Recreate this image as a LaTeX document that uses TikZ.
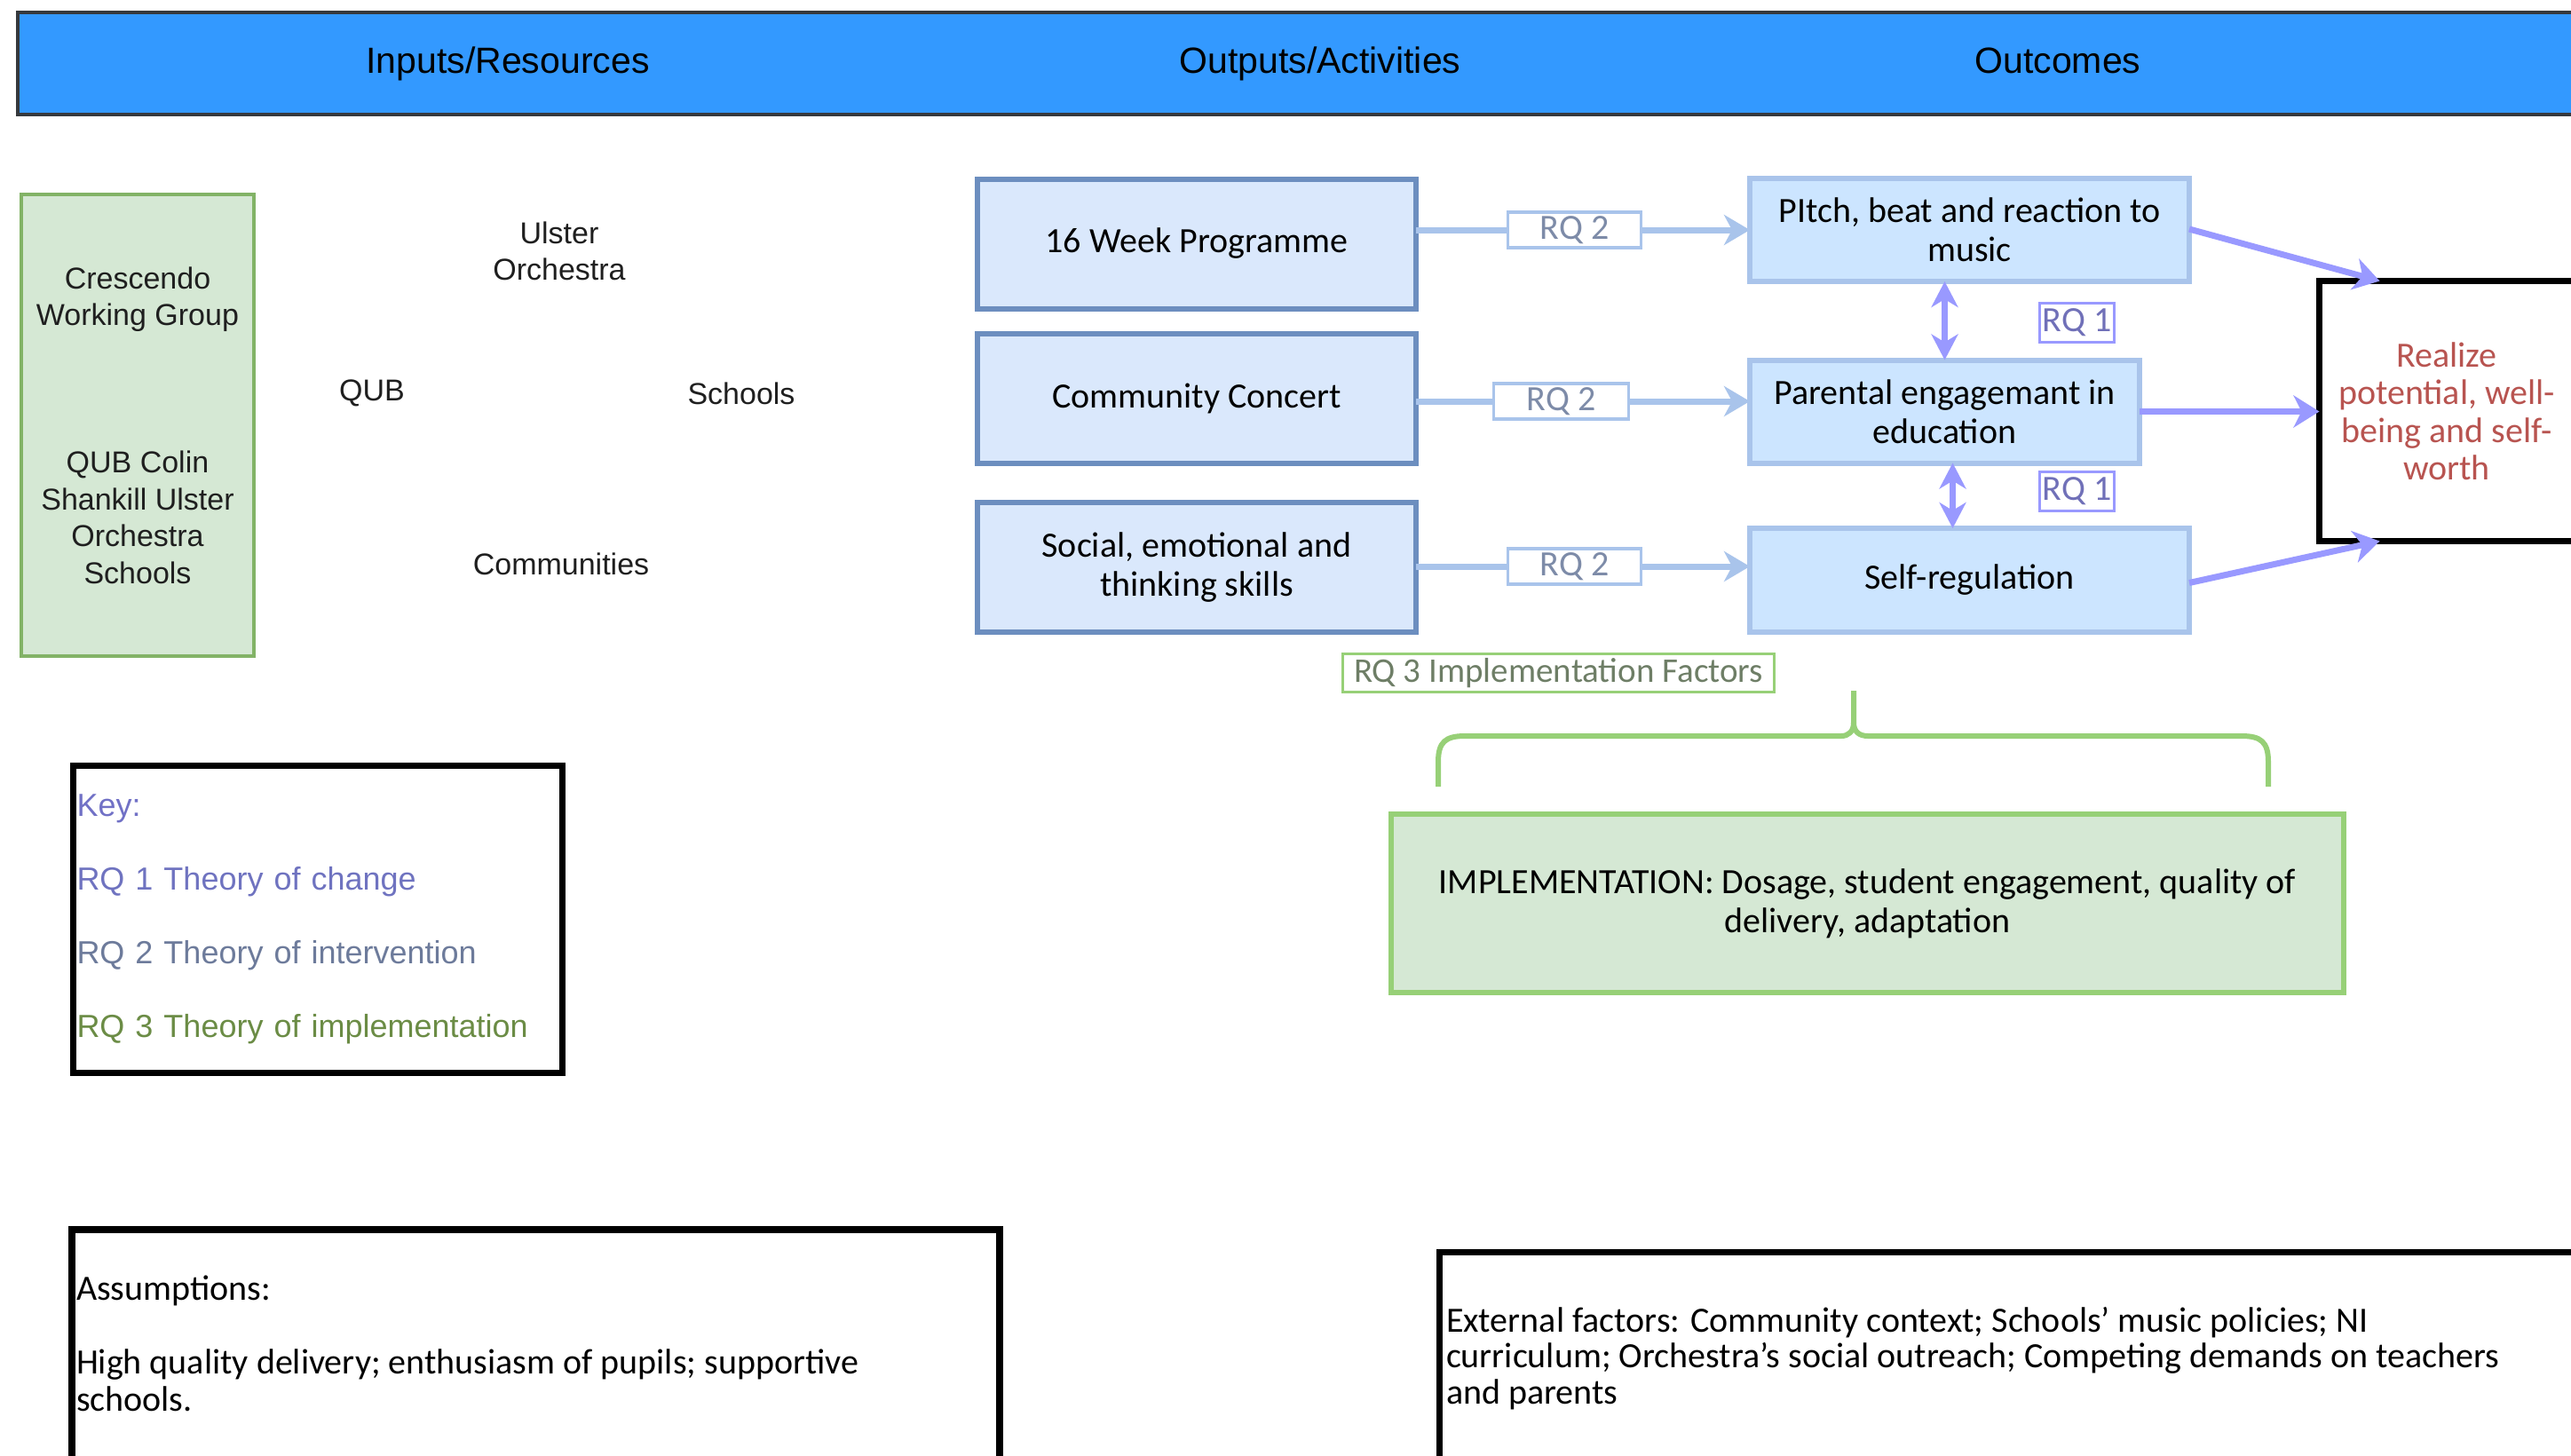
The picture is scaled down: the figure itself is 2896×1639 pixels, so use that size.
\documentclass[tikz,border=0pt]{standalone}
\usepackage{fontspec}
\setmainfont{Carlito}
\newfontfamily\arialf{Liberation Sans}
\usetikzlibrary{arrows.meta}
\definecolor{hdrblue}{HTML}{3399FF}
\definecolor{hdrline}{HTML}{36393D}
\definecolor{outfill}{HTML}{DAE8FC}
\definecolor{outline}{HTML}{6C8EBF}
\definecolor{ocfill}{HTML}{CCE5FF}
\definecolor{ocline}{HTML}{A9C4EB}
\definecolor{gfill}{HTML}{D5E8D4}
\definecolor{gline}{HTML}{82B366}
\definecolor{gltwo}{HTML}{97D077}
\definecolor{purp}{HTML}{9999FF}
\definecolor{rqtwotext}{HTML}{7D8BA8}
\definecolor{rqonetext}{HTML}{7070B8}
\definecolor{rqthreetext}{HTML}{6E7E66}
\definecolor{redtext}{HTML}{B85450}
\definecolor{keyzero}{HTML}{7171C6}
\definecolor{keyone}{HTML}{6F73C0}
\definecolor{keytwo}{HTML}{6D7B9B}
\definecolor{keythree}{HTML}{6B8C45}
\newcommand{\cbfont}{\fontsize{40}{44}\selectfont}
\begin{document}
\begin{tikzpicture}[x=1pt,y=-1pt,
  every node/.style={inner sep=0pt, outer sep=0pt},
  arialtxt/.style={font=\arialf\fontsize{34}{41.5}\selectfont, text=black!88, align=center},
  hdrtxt/.style={font=\arialf\fontsize{41}{49}\selectfont, text=black, anchor=base},
  outbox/.style={draw=outline, fill=outfill, line width=6pt, minimum width=494pt, minimum height=146pt, align=center, font=\cbfont},
  ocbox/.style={draw=ocline, fill=ocfill, line width=6pt, minimum height=116pt, align=center, font=\cbfont},
  rqtwobox/.style={draw=ocline, fill=white, line width=3.5pt, minimum width=150pt, minimum height=40pt, text=rqtwotext, font=\cbfont},
  rqonebox/.style={draw=purp, fill=white, line width=3pt, minimum width=84pt, minimum height=44pt, text=rqonetext, font=\cbfont},
  rqtwoline/.style={draw=ocline, line width=7pt},
  rqtwoarrow/.style={rqtwoline, -{Stealth[length=29pt,width=34pt,inset=9pt]}},
  purparrow/.style={draw=purp, line width=7pt, -{Stealth[length=29pt,width=36pt,inset=9pt]}},
  purpdouble/.style={draw=purp, line width=7pt, {Stealth[length=29pt,width=30pt,inset=9pt]}-{Stealth[length=29pt,width=30pt,inset=9pt]}},
  blackbox/.style={draw=black, line width=7pt, fill=white},
]
\useasboundingbox (0,0) rectangle (2896,1639);
\clip (0,0) rectangle (2896,1639);
\fill[white] (0,0) rectangle (2896,1639);

% header
\node[draw=hdrline, fill=hdrblue, line width=4pt, minimum width=2928pt, minimum height=115pt] (hdr) at (1484,71.5) {};
\node[hdrtxt] (hone) at (572,82) {Inputs/Resources};
\node[hdrtxt] (htwo) at (1487,82) {Outputs/Activities};
\node[hdrtxt] (hthree) at (2318,82) {Outcomes};

% inputs
\node[draw=gline, fill=gfill, line width=4pt, minimum width=262pt, minimum height=520pt, arialtxt] (grp) at (155,479)
  {Crescendo\\Working Group\\[124.5pt]QUB Colin\\Shankill Ulster\\Orchestra\\Schools};
\node[arialtxt] (ulster) at (630,283) {Ulster\\Orchestra};
\node[arialtxt] (qub) at (419,443) {QUB};
\node[arialtxt] (schools) at (835,443) {Schools};
\node[arialtxt] (comm) at (632,635) {Communities};

% outputs
\node[outbox] (bone) at (1348,274.5) {16 Week Programme};
\node[outbox] (btwo) at (1348,449) {Community Concert};
\node[outbox] (bthree) at (1348,639) {Social, emotional and\\thinking skills};

% outcomes
\node[ocbox, minimum width=495pt] (oone) at (2218.5,259) {PItch, beat and reaction to\\music};
\node[ocbox, minimum width=439pt] (otwo) at (2190.5,463.5) {Parental engagemant in\\education};
\node[ocbox, minimum width=495pt, minimum height=117pt] (othree) at (2218.5,653.5) {Self-regulation};

% realize
\node[blackbox, minimum width=287pt, minimum height=293pt, align=center, text=redtext, font=\fontsize{40}{42.5}\selectfont] (real) at (2756,463)
  {Realize\\potential, well-\\being and self-\\worth};

% RQ2 labels and arrows
\node[rqtwobox] (lone) at (1773.5,259) {RQ 2};
\node[rqtwobox, minimum width=152pt] (ltwo) at (1758.5,452) {RQ 2};
\node[rqtwobox] (lthree) at (1773.5,638) {RQ 2};
\draw[rqtwoline] (bone.east |- lone.center) -- (lone.west);
\draw[rqtwoarrow] (lone.east) -- (oone.west |- lone.center);
\draw[rqtwoline] (btwo.east |- ltwo.center) -- (ltwo.west);
\draw[rqtwoarrow] (ltwo.east) -- (otwo.west |- ltwo.center);
\draw[rqtwoline] (bthree.east |- lthree.center) -- (lthree.west);
\draw[rqtwoarrow] (lthree.east) -- (othree.west |- lthree.center);

% RQ1
\node[rqonebox] (rone) at (2339.5,363.5) {RQ 1};
\node[rqonebox] (rtwo) at (2339.5,553.5) {RQ 1};
\draw[purpdouble] (oone.south -| otwo.north) -- (otwo.north);
\draw[purpdouble] ([xshift=9pt]otwo.south) -- ([xshift=9pt]otwo.south |- othree.north);

% to realize
\draw[purparrow] ([yshift=1pt]oone.east) -- ([xshift=68pt]real.north west);
\draw[purparrow] (otwo.east) -- (real.west |- otwo.east);
\draw[purparrow] ([yshift=-3pt]othree.east) -- ([xshift=68pt]real.south west);

% RQ3 and implementation
\node[draw=gltwo, fill=white, line width=3.5pt, minimum width=486pt, minimum height=43pt, text=rqthreetext, font=\fontsize{39}{44}\selectfont] (rqthree) at (1755.5,758) {RQ 3 Implementation Factors};
\draw[draw=gltwo, line width=6pt, line join=round]
  (1620,886) -- (1620,858) .. controls (1620,836) and (1628,829) .. (1650,829) -- (2074,829)
  .. controls (2082,829) and (2088,824) .. (2088,814) -- (2088,778);
\draw[draw=gltwo, line width=6pt, line join=round]
  (2555,886) -- (2555,858) .. controls (2555,836) and (2547,829) .. (2525,829) -- (2104,829)
  .. controls (2094,829) and (2088,824) .. (2088,814);
\node[draw=gltwo, fill=gfill, line width=6pt, minimum width=1073pt, minimum height=201pt, align=center, font=\cbfont] (impl) at (2103.5,1017.5)
  {IMPLEMENTATION: Dosage, student engagement, quality of\\delivery, adaptation};

% key
\node[blackbox, minimum height=346pt, text width=543pt, inner xsep=4pt, align=left, font=\arialf\fontsize{36}{83}\selectfont] (key) at (358,1035.5)
  {\textcolor{keyzero}{Key:}\\\textcolor{keyone}{RQ 1 Theory of change}\\\textcolor{keytwo}{RQ 2 Theory of intervention}\\\textcolor{keythree}{RQ 3 Theory of implementation}};

% assumptions
\node[draw=black, line width=8pt, fill=white, minimum width=1045pt, minimum height=400pt, anchor=north west] (assum) at (81,1385) {};
\node[anchor=base west, align=left, font=\fontsize{40}{41.5}\selectfont] (assumtxt) at (86,1589)
  {Assumptions:\\[41.5pt]High quality delivery; enthusiasm of pupils; supportive\\schools.};

% external
\node[draw=black, line width=7pt, fill=white, minimum width=1400pt, minimum height=400pt, anchor=north west] (ext) at (1621.5,1410.5) {};
\node[anchor=base west, align=left, font=\fontsize{40}{40.5}\selectfont] (exttxt) at (1629,1581)
  {External factors: Community context; Schools' music policies; NI\\curriculum; Orchestra's social outreach; Competing demands on teachers\\and parents};
\end{tikzpicture}
\end{document}
